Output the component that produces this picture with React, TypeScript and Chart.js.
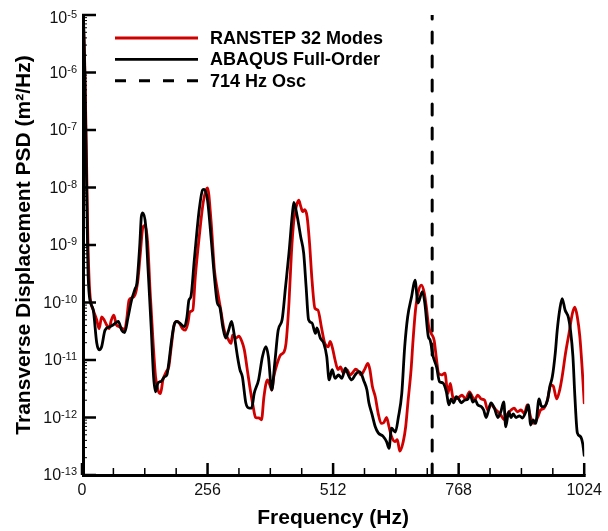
import React, { useEffect, useRef } from 'react';
import { Chart, registerables } from 'chart.js';

Chart.register(...registerables);

// ---------------- data ----------------
const seriesLabels = ['RANSTEP 32 Modes', 'ABAQUS Full-Order', '714 Hz Osc'];

const ranstepFreq = [
  0, 3, 6, 9, 12, 16, 23, 30, 35, 40,
  45, 50, 55, 60, 65, 70, 76, 83, 87, 91,
  96, 101, 108, 114, 119, 124, 129, 134, 139, 145,
  150, 155, 160, 165, 172, 177, 182, 189, 195, 205,
  211, 216, 220, 226, 231, 239, 247, 253, 256, 263,
  270, 276, 283, 290, 297, 304, 307, 314, 320, 326,
  331, 337, 342, 349, 354, 361, 366, 371, 378, 383,
  387, 391, 398, 405, 412, 416, 422, 427, 432, 437,
  442, 446, 450, 454, 459, 464, 469, 475, 481, 488,
  495, 502, 506, 511, 516, 522, 527, 533, 540, 547,
  553, 558, 564, 569, 576, 583, 587, 592, 598, 604,
  610, 615, 621, 626, 631, 638, 643, 648, 655, 660,
  665, 671, 675, 680, 685, 692, 698, 702, 707, 712,
  718, 723, 727, 733, 740, 746, 751, 756, 763, 770,
  775, 782, 790, 796, 800, 807, 814, 821, 827, 834,
  841, 848, 854, 861, 868, 875, 881, 888, 895, 902,
  908, 915, 922, 929, 935, 942, 949, 956, 961, 968,
  974, 979, 986, 993, 1000, 1005, 1010, 1015, 1020, 1024,
];
const ranstepPsd = [
  1.0e-5, 6.3e-6, 1.0e-6, 4.0e-8, 1.26e-9, 1.45e-10, 7.4e-11, 5.0e-11, 3.5e-11, 5.6e-11,
  5.0e-11, 4.1e-11, 3.5e-11, 5.0e-11, 6.0e-11, 4.1e-11, 3.8e-11, 3.5e-11, 3.3e-11, 5.0e-11,
  1.1e-10, 1.2e-10, 1.35e-10, 2.45e-10, 7.2e-10, 2.0e-9, 2.2e-9, 1.07e-9, 1.5e-10, 2.0e-11,
  5.1e-12, 3.0e-12, 2.6e-12, 4.5e-12, 6.3e-12, 7.6e-12, 1.7e-11, 4.4e-11, 4.7e-11, 3.5e-11,
  3.3e-11, 4.4e-11, 6.9e-11, 7.4e-11, 2.8e-10, 1.38e-9, 5.4e-9, 9.1e-9, 9.8e-9, 2.7e-9,
  3.7e-10, 1.66e-10, 7.4e-11, 3.3e-11, 2.4e-11, 1.95e-11, 2.7e-11, 2.4e-11, 2.6e-11, 2.1e-11,
  1.5e-11, 6.8e-12, 3.5e-12, 1.55e-12, 1.0e-12, 9.8e-13, 9.1e-13, 2.3e-12, 4.5e-12, 3.7e-12,
  3.0e-12, 5.1e-12, 8.7e-12, 1.23e-11, 1.38e-11, 1.95e-11, 9.8e-11, 7.2e-10, 2.7e-9, 4.7e-9,
  6.0e-9, 4.7e-9, 3.8e-9, 4.1e-9, 3.1e-9, 1.07e-9, 2.45e-10, 7.9e-11, 7.4e-11, 3.8e-11,
  1.95e-11, 1.7e-11, 2.1e-11, 1.58e-11, 1.0e-11, 6.8e-12, 7.6e-12, 5.9e-12, 6.8e-12, 5.5e-12,
  6.2e-12, 6.9e-12, 6.3e-12, 5.5e-12, 6.8e-12, 8.7e-12, 6.8e-12, 3.5e-12, 2.3e-12, 1.17e-12,
  7.9e-13, 8.1e-13, 1.0e-12, 6.9e-13, 4.7e-13, 3.8e-13, 4.1e-13, 2.6e-13, 3.8e-13, 6.9e-13,
  2.0e-12, 6.8e-12, 2.2e-11, 7.4e-11, 1.45e-10, 2.0e-10, 1.45e-10, 8.5e-11, 3.8e-11, 2.9e-11,
  2.2e-11, 1.0e-11, 5.9e-12, 5.5e-12, 5.9e-12, 2.6e-12, 3.9e-12, 2.3e-12, 2.1e-12, 2.3e-12,
  2.45e-12, 2.1e-12, 2.8e-12, 2.3e-12, 2.0e-12, 2.45e-12, 2.1e-12, 2.0e-12, 1.35e-12, 1.66e-12,
  1.45e-12, 1.26e-12, 1.1e-12, 9.1e-13, 1.17e-12, 1.35e-12, 1.45e-12, 1.26e-12, 1.35e-12, 1.17e-12,
  1.66e-12, 1.0e-12, 7.9e-13, 1.0e-12, 1.35e-12, 1.45e-12, 2.0e-12, 3.7e-12, 3.5e-12, 2.1e-12,
  3.0e-12, 5.1e-12, 1.32e-11, 2.9e-11, 6.5e-11, 8.3e-11, 5.6e-11, 2.6e-11, 6.8e-12, 1.8e-12,
];

const abaqusFreq = [
  0, 3, 6, 9, 12, 15, 23, 30, 35, 40,
  47, 57, 64, 74, 81, 87, 94, 101, 108, 112,
  118, 121, 124, 130, 134, 141, 146, 150, 155, 162,
  168, 173, 177, 182, 187, 192, 199, 209, 214, 218,
  222, 229, 239, 246, 249, 256, 263, 270, 276, 281,
  287, 293, 299, 305, 310, 317, 322, 327, 334, 341,
  346, 351, 360, 368, 375, 380, 387, 393, 400, 408,
  415, 422, 429, 432, 439, 446, 452, 457, 462, 469,
  476, 479, 486, 493, 499, 504, 510, 516, 523, 530,
  537, 543, 550, 557, 564, 569, 574, 581, 585, 591,
  598, 604, 614, 621, 626, 631, 639, 645, 652, 658,
  664, 672, 679, 685, 694, 699, 706, 710, 716, 723,
  729, 736, 743, 748, 753, 758, 763, 768, 773, 780,
  787, 791, 797, 802, 807, 814, 819, 824, 829, 834,
  841, 848, 854, 860, 864, 870, 875, 879, 885, 892,
  898, 905, 910, 915, 920, 925, 932, 937, 942, 949,
  954, 959, 965, 969, 974, 979, 985, 992, 996, 1001,
  1005, 1010, 1016, 1021, 1024,
];
const abaqusPsd = [
  1.0e-5, 7.9e-6, 6.8e-7, 1.8e-8, 4.3e-10, 1.3e-10, 7.4e-11, 2.0e-11, 1.5e-11, 1.7e-11,
  3.3e-11, 3.8e-11, 4.1e-11, 4.7e-11, 3.3e-11, 3.0e-11, 5.6e-11, 1.1e-10, 1.7e-10, 2.2e-10,
  1.07e-9, 3.1e-9, 3.6e-9, 2.1e-9, 4.9e-10, 3.8e-11, 5.1e-12, 2.8e-12, 4.0e-12, 4.3e-12,
  5.1e-12, 5.5e-12, 8.9e-12, 2.0e-11, 3.8e-11, 4.7e-11, 4.4e-11, 3.8e-11, 5.6e-11, 1.1e-10,
  1.26e-10, 5.5e-10, 4.1e-9, 9.1e-9, 9.3e-9, 6.0e-9, 1.4e-9, 2.8e-10, 9.8e-11, 8.3e-11,
  3.8e-11, 2.4e-11, 3.3e-11, 4.7e-11, 2.9e-11, 1.15e-11, 6.8e-12, 5.1e-12, 1.8e-12, 1.45e-12,
  1.45e-12, 2.6e-12, 4.5e-12, 1.15e-11, 1.7e-11, 1.15e-11, 3.0e-12, 8.7e-12, 3.3e-11, 5.0e-11,
  1.86e-10, 7.2e-10, 3.5e-9, 5.5e-9, 3.1e-9, 1.38e-9, 7.2e-10, 1.86e-10, 5.0e-11, 4.4e-11,
  2.9e-11, 3.6e-11, 2.4e-11, 1.95e-11, 1.15e-11, 4.5e-12, 6.8e-12, 4.8e-12, 5.5e-12, 4.8e-12,
  7.2e-12, 5.5e-12, 4.5e-12, 5.5e-12, 6.3e-12, 5.9e-12, 4.5e-12, 3.0e-12, 1.8e-12, 1.17e-12,
  6.9e-13, 5.4e-13, 4.7e-13, 3.8e-13, 2.9e-13, 6.5e-13, 5.6e-13, 1.0e-12, 2.6e-12, 1.7e-11,
  5.6e-11, 1.26e-10, 2.45e-10, 9.8e-11, 1.55e-10, 9.8e-11, 2.6e-11, 2.2e-11, 1.15e-11, 7.6e-12,
  4.2e-12, 4.0e-12, 2.8e-12, 1.66e-12, 2.1e-12, 1.8e-12, 2.3e-12, 2.1e-12, 1.8e-12, 2.0e-12,
  2.1e-12, 2.6e-12, 1.86e-12, 2.0e-12, 1.66e-12, 1.55e-12, 1.35e-12, 1.0e-12, 1.35e-12, 1.8e-12,
  1.45e-12, 1.0e-12, 1.26e-12, 1.86e-12, 6.9e-13, 1.26e-12, 1.0e-12, 1.15e-12, 1.0e-12, 1.07e-12,
  9.8e-13, 1.26e-12, 1.66e-12, 7.4e-13, 9.1e-13, 7.9e-13, 2.1e-12, 1.55e-12, 1.55e-12, 2.0e-12,
  3.5e-12, 5.1e-12, 1.32e-11, 3.3e-11, 7.4e-11, 1.17e-10, 7.4e-11, 5.4e-11, 3.3e-11, 1.15e-11,
  2.3e-12, 5.4e-13, 4.7e-13, 3.5e-13, 2.2e-13,
];

const oscFreq = [714, 714];
const oscPsd = [1e-13, 1e-5];

const xMajorTicks = [0, 256, 512, 768, 1024];
const xMinorTicks = [64, 128, 192, 320, 384, 448, 576, 640, 704, 832, 896, 960];
const yTickValues = [1e-13, 1e-12, 1e-11, 1e-10, 1e-9, 1e-8, 1e-7, 1e-6, 1e-5];
const yTickExponents = ['-13', '-12', '-11', '-10', '-9', '-8', '-7', '-6', '-5'];
const yMinorMultipliers = [2, 3, 4, 5, 6, 7, 8, 9];

// ---------------- style ----------------
const FONT = '"Liberation Sans", Arial, Helvetica, sans-serif';
const RED = '#d00000';

const toPoints = (xs: number[], ys: number[]) => xs.map((x, i) => ({ x, y: ys[i] }));

const decorPlugin = {
  id: 'decor',
  afterDatasetsDraw(chart: any) {
    const { ctx, chartArea: a } = chart;
    const xs = chart.scales.x;
    const ys = chart.scales.y;
    ctx.save();
    ctx.strokeStyle = '#000';
    ctx.lineCap = 'butt';
    ctx.setLineDash([]);

    // axis lines
    ctx.lineWidth = 3;
    ctx.beginPath();
    ctx.moveTo(a.left + 1.5, a.top);
    ctx.lineTo(a.left + 1.5, a.bottom + 2);
    ctx.moveTo(a.left, a.bottom + 0.5);
    ctx.lineTo(a.right + 1.5, a.bottom + 0.5);
    ctx.stroke();

    // x major ticks
    ctx.lineWidth = 2.5;
    ctx.beginPath();
    for (const v of xMajorTicks) {
      const px = xs.getPixelForValue(v);
      ctx.moveTo(px, a.bottom);
      ctx.lineTo(px, a.bottom - 12);
    }
    ctx.stroke();
    // x minor ticks
    ctx.lineWidth = 1.5;
    ctx.beginPath();
    for (const v of xMinorTicks) {
      const px = xs.getPixelForValue(v);
      ctx.moveTo(px, a.bottom);
      ctx.lineTo(px, a.bottom - 7);
    }
    ctx.stroke();

    // y major ticks
    ctx.lineWidth = 2.5;
    ctx.beginPath();
    for (const v of yTickValues) {
      const py = ys.getPixelForValue(v);
      ctx.moveTo(a.left, py);
      ctx.lineTo(a.left + 14, py);
    }
    ctx.stroke();
    // y minor ticks
    ctx.lineWidth = 1;
    ctx.beginPath();
    for (let i = 0; i < yTickValues.length - 1; i++) {
      for (const m of yMinorMultipliers) {
        const py = ys.getPixelForValue(yTickValues[i] * m);
        ctx.moveTo(a.left, py);
        ctx.lineTo(a.left + 5, py);
      }
    }
    ctx.stroke();

    // y tick labels: 10 with superscript exponent
    ctx.fillStyle = '#111';
    ctx.textAlign = 'right';
    ctx.textBaseline = 'middle';
    const rightEdge = a.left - 5;
    yTickValues.forEach((v, i) => {
      const py = Math.max(ys.getPixelForValue(v), a.top + 3);
      ctx.font = `11px ${FONT}`;
      const exp = yTickExponents[i];
      const ew = ctx.measureText(exp).width;
      ctx.fillText(exp, rightEdge, py - 3);
      ctx.font = `16px ${FONT}`;
      ctx.fillText('10', rightEdge - ew, py + 1);
    });

    // legend
    const ds = chart.data.datasets;
    ctx.textAlign = 'left';
    ctx.textBaseline = 'middle';
    ctx.font = `bold 18px ${FONT}`;
    ds.forEach((d: any, i: number) => {
      const y = a.top + 23 + i * 21.4;
      ctx.strokeStyle = d.borderColor;
      ctx.lineWidth = d.borderWidth;
      ctx.setLineDash(d.borderDash || []);
      ctx.beginPath();
      ctx.moveTo(a.left + 33, y);
      ctx.lineTo(a.left + 116, y);
      ctx.stroke();
      ctx.fillStyle = '#000';
      ctx.fillText(d.label, a.left + 128, y + 1);
    });
    ctx.restore();
  },
};

export default function App() {
  const ref = useRef<HTMLCanvasElement>(null);

  useEffect(() => {
    document.body.style.margin = '0';
    const canvas = ref.current;
    if (!canvas) return;
    const chart = new Chart(canvas, {
      type: 'line',
      data: {
        datasets: [
          {
            label: seriesLabels[0],
            data: toPoints(ranstepFreq, ranstepPsd),
            borderColor: RED,
            borderWidth: 2.8,
            order: 1,
          },
          {
            label: seriesLabels[1],
            data: toPoints(abaqusFreq, abaqusPsd),
            borderColor: '#000',
            borderWidth: 2.8,
            order: 0,
          },
          {
            label: seriesLabels[2],
            data: toPoints(oscFreq, oscPsd),
            borderColor: '#000',
            borderWidth: 3,
            borderDash: [11, 13],
            cubicInterpolationMode: 'default',
            tension: 0,
            order: 2,
          },
        ] as any,
      },
      options: {
        responsive: false,
        animation: false,
        devicePixelRatio: 1,
        layout: { padding: { top: 15, right: 21, left: 0, bottom: 0 } },
        plugins: {
          legend: { display: false },
          tooltip: { enabled: false },
        },
        elements: {
          point: { radius: 0 },
          line: {
            cubicInterpolationMode: 'monotone',
            borderJoinStyle: 'round',
            borderCapStyle: 'round',
          },
        },
        scales: {
          x: {
            type: 'linear',
            min: 0,
            max: 1024,
            grid: { display: false, drawTicks: false },
            border: { display: false },
            afterBuildTicks: (s: any) => {
              s.ticks = xMajorTicks.map((v) => ({ value: v }));
            },
            afterFit: (s: any) => {
              s.height = 56;
            },
            ticks: {
              font: { family: FONT, size: 16 },
              color: '#111',
              padding: 6,
              maxRotation: 0,
              autoSkip: false,
              callback: (v: any) => String(v),
            },
            title: {
              display: true,
              text: 'Frequency (Hz)',
              font: { family: FONT, size: 21, weight: 'bold' },
              color: '#000',
              padding: { top: 0, bottom: 0 },
            },
          },
          y: {
            type: 'logarithmic',
            min: 1e-13,
            max: 1e-5,
            grid: { display: false, drawTicks: false },
            border: { display: false },
            ticks: { display: false },
            afterFit: (s: any) => {
              s.width = 82;
            },
            title: {
              display: true,
              text: 'Transverse Displacement PSD (m²/Hz)',
              font: { family: FONT, size: 21, weight: 'bold' },
              color: '#000',
              padding: { top: 12, bottom: 0 },
            },
          },
        },
      } as any,
      plugins: [decorPlugin],
    });
    return () => chart.destroy();
  }, []);

  return (
    <div style={{ position: 'absolute', left: 0, top: 0, width: 608, height: 531, background: '#fff' }}>
      <canvas ref={ref} width={608} height={531} style={{ display: 'block' }} />
    </div>
  );
}
